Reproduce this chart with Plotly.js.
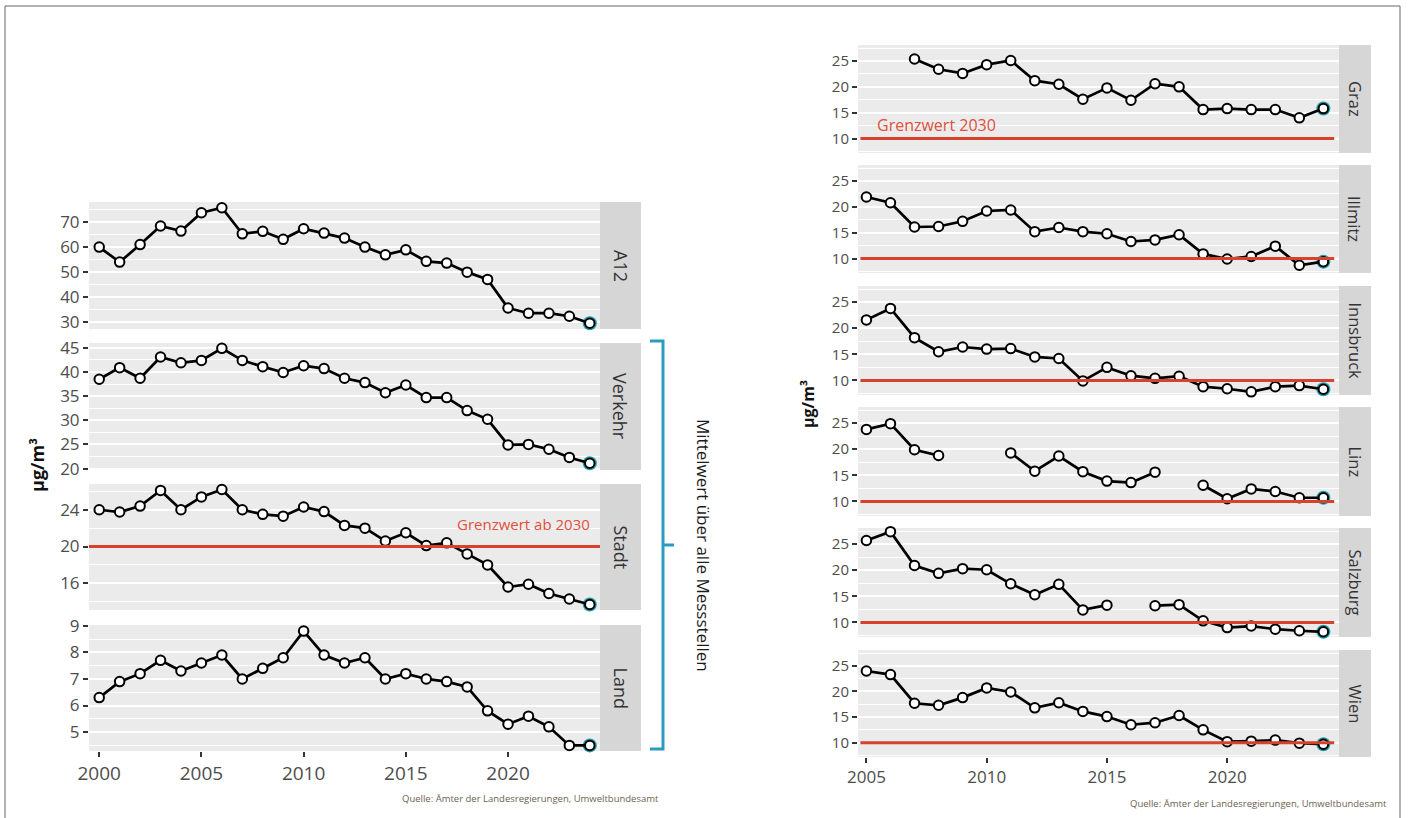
<!DOCTYPE html>
<html>
<head>
<meta charset="utf-8">
<script src="https://cdn.plot.ly/plotly-3.0.1.min.js"></script>
<style>html,body{margin:0;padding:0;background:#fff;}#chart{width:1408px;height:818px;}</style>
</head>
<body>
<div id="chart"></div>
<script>
// ---------- DATA ----------
const yearsLeft = [2000,2001,2002,2003,2004,2005,2006,2007,2008,2009,2010,2011,2012,2013,2014,2015,2016,2017,2018,2019,2020,2021,2022,2023,2024];
const a12     = [60,54,61,68.4,66.4,73.7,75.7,65.3,66.3,63.1,67.3,65.6,63.6,60,56.9,58.9,54.3,53.6,50,47.1,35.7,33.6,33.6,32.4,29.6];
const verkehr = [38.5,40.9,38.7,43.1,41.9,42.4,44.9,42.4,41.1,39.9,41.3,40.7,38.7,37.8,35.7,37.3,34.7,34.7,32.0,30.2,24.9,25.0,24.0,22.3,21.1];
const stadt   = [24.0,23.75,24.4,26.1,24.0,25.4,26.2,24.0,23.5,23.3,24.3,23.8,22.3,22.0,20.6,21.5,20.1,20.4,19.2,18.0,15.6,15.9,14.9,14.3,13.7];
const land    = [6.3,6.9,7.2,7.7,7.3,7.6,7.9,7.0,7.4,7.8,8.8,7.9,7.6,7.8,7.0,7.2,7.0,6.9,6.7,5.8,5.3,5.6,5.2,4.5,4.5];
const leftNames = ["A12","Verkehr","Stadt","Land"];

const yearsRight = [2005,2006,2007,2008,2009,2010,2011,2012,2013,2014,2015,2016,2017,2018,2019,2020,2021,2022,2023,2024];
const graz      = [null,null,25.4,23.4,22.6,24.3,25.1,21.2,20.5,17.6,19.8,17.4,20.6,20.0,15.6,15.8,15.6,15.6,14.0,15.8];
const illmitz   = [21.9,20.8,16.1,16.2,17.2,19.2,19.4,15.2,16.0,15.2,14.8,13.3,13.6,14.6,10.9,9.9,10.4,12.4,8.7,9.4];
const innsbruck = [21.6,23.8,18.2,15.5,16.4,16.0,16.1,14.5,14.2,9.9,12.5,10.9,10.4,10.8,8.8,8.4,7.8,8.8,9.0,8.3];
const linz      = [23.8,24.9,19.9,18.8,null,null,19.3,15.8,18.7,15.7,13.9,13.6,15.6,null,13.1,10.5,12.4,11.9,10.7,10.7];
const salzburg  = [25.7,27.4,20.9,19.4,20.3,20.1,17.4,15.3,17.3,12.4,13.3,null,13.2,13.4,10.3,9.0,9.3,8.7,8.4,8.2];
const wien      = [24.0,23.3,17.7,17.3,18.8,20.7,19.9,16.8,17.8,16.1,15.1,13.5,13.9,15.3,12.5,10.2,10.3,10.5,9.9,9.7];
const rightNames = ["Graz","Illmitz","Innsbruck","Linz","Salzburg","Wien"];

const limitStadt = 20;
const limitRight = 10;
const xTicksLeft  = [2000,2005,2010,2015,2020];
const xTicksRight = [2005,2010,2015,2020];

// ---------- LAYOUT HELPERS ----------
const W = 1408, H = 818;
const px = x => x / W;
const py = y => 1 - y / H;

const leftSeries  = [a12, verkehr, stadt, land];
const leftPanels  = [[202,329],[343,470],[484,610],[625,751]];
const leftRanges  = [[27.3,78.0],[19.7,46.0],[13.1,26.8],[4.29,9.03]];
const leftDtick   = [[10,5],[5,2.5],[4,2],[1,0.5]];
const leftX = [89, 600], leftStrip = [600, 641];

const rightSeries = [graz, illmitz, innsbruck, linz, salzburg, wien];
const rightPanels = [[45,153],[165,273],[286,395],[407,516],[528,637],[650,757]];
const rightRange  = [7.2, 28.1];
const rightX = [858, 1339], rightStrip = [1339, 1371];

const tickFontL = {family: "Open Sans", size: 17, color: "#4d4d4d"};
const tickFontR = {family: "Open Sans", size: 15, color: "#4d4d4d"};
const teal = "#1f9eab";

const data = [];
const layout = {
  width: W, height: H,
  margin: {l:0, r:0, t:0, b:0},
  paper_bgcolor: "white",
  plot_bgcolor: "#ebebeb",
  showlegend: false,
  font: {family: "Open Sans"},
  shapes: [], annotations: []
};

function addPanel(idx, xs, ys, xdom, ydom, xrange, yrange, dtick, minorDtick, showX, xticks, tickFont, stripFont, stripX, name) {
  const sfx = idx === 1 ? "" : String(idx);
  const xa = "x" + sfx, ya = "y" + sfx;
  layout["xaxis" + sfx] = {
    domain: [px(xdom[0]), px(xdom[1])], anchor: ya, range: xrange,
    showgrid: false, zeroline: false, showline: false,
    tickvals: xticks, ticktext: xticks.map(String),
    showticklabels: showX, ticks: showX ? "outside" : "", ticklen: 5, tickwidth: 2, tickcolor: "#333",
    tickfont: {family: "Open Sans", size: tickFont.size + 2, color: "#4d4d4d"}
  };
  layout["yaxis" + sfx] = {
    domain: [py(ydom[1]), py(ydom[0])], anchor: xa, range: yrange,
    dtick: dtick, tick0: 0, zeroline: false, showline: false,
    showgrid: true, gridcolor: "white", gridwidth: 2,
    ticks: "outside", ticklen: 5, tickwidth: 2, tickcolor: "#333",
    tickfont: tickFont,
    minor: {dtick: minorDtick, tick0: 0, showgrid: true, gridcolor: "white", gridwidth: 1, ticks: ""}
  };
  // last point halo
  let li = ys.length - 1;
  while (li >= 0 && ys[li] === null) li--;
  data.push({x: [xs[li]], y: [ys[li]], xaxis: xa, yaxis: ya, type: "scatter", mode: "markers",
    marker: {size: 14, color: teal}, cliponaxis: false, hoverinfo: "skip"});
  data.push({x: xs, y: ys, xaxis: xa, yaxis: ya, type: "scatter", mode: "lines+markers",
    connectgaps: false, cliponaxis: false,
    line: {color: "black", width: 2.7},
    marker: {symbol: "circle", size: 9.5, color: "white", line: {color: "black", width: 2}}});
  // strip
  layout.shapes.push({type: "rect", xref: "paper", yref: "paper", layer: "below",
    x0: px(stripX[0]), x1: px(stripX[1]), y0: py(ydom[1]), y1: py(ydom[0]),
    fillcolor: "#d6d6d6", line: {width: 0}});
  layout.annotations.push({xref: "paper", yref: "paper", x: px((stripX[0] + stripX[1]) / 2), y: py((ydom[0] + ydom[1]) / 2),
    text: name, textangle: 90, showarrow: false, xanchor: "center", yanchor: "middle",
    font: {family: "Open Sans", size: stripFont, color: "#333"}});
  return {xa, ya};
}

// left panels
let axesLeft = [];
for (let i = 0; i < 4; i++) {
  axesLeft.push(addPanel(i + 1, yearsLeft, leftSeries[i], leftX, leftPanels[i], [1999.5, 2024.5], leftRanges[i],
    leftDtick[i][0], leftDtick[i][1], i === 3, xTicksLeft, tickFontL, 18, leftStrip, leftNames[i]));
}
// right panels
let axesRight = [];
for (let i = 0; i < 6; i++) {
  axesRight.push(addPanel(i + 5, yearsRight, rightSeries[i], rightX, rightPanels[i], [2004.65, 2024.65], rightRange,
    5, 2.5, i === 5, xTicksRight, tickFontR, 16.5, rightStrip, rightNames[i]));
}

// limit lines
const red = "#d9412f";
layout.shapes.push({type: "line", xref: axesLeft[2].xa + " domain", yref: axesLeft[2].ya,
  x0: 0, x1: 1, y0: limitStadt, y1: limitStadt, line: {color: red, width: 3}});
layout.annotations.push({xref: axesLeft[2].xa + " domain", yref: axesLeft[2].ya, x: 0.985, y: limitStadt,
  yshift: 23, text: "Grenzwert ab 2030", showarrow: false, xanchor: "right", yanchor: "middle",
  font: {family: "Open Sans", size: 15, color: "#e0503c"}});
for (let i = 0; i < 6; i++) {
  layout.shapes.push({type: "line", xref: axesRight[i].xa + " domain", yref: axesRight[i].ya,
    x0: 0.005, x1: 0.99, y0: limitRight, y1: limitRight, line: {color: red, width: 3}});
}
layout.annotations.push({xref: axesRight[0].xa + " domain", yref: axesRight[0].ya, x: 0.035, y: limitRight,
  yshift: 14, text: "Grenzwert 2030", showarrow: false, xanchor: "left", yanchor: "middle",
  font: {family: "Open Sans", size: 16, color: "#e0503c"}});

// axis titles
layout.annotations.push({xref: "paper", yref: "paper", x: px(37), y: py(465), text: "<b>µg/m³</b>", textangle: -90,
  showarrow: false, xanchor: "center", yanchor: "middle", font: {family: "Open Sans", size: 18, color: "#111"}});
layout.annotations.push({xref: "paper", yref: "paper", x: px(808), y: py(404), text: "<b>µg/m³</b>", textangle: -90,
  showarrow: false, xanchor: "center", yanchor: "middle", font: {family: "Open Sans", size: 16, color: "#111"}});

// bracket
const bc = "#2a9cc2";
layout.shapes.push({type: "path", xref: "paper", yref: "paper",
  path: `M ${px(650)} ${py(341)} L ${px(663)} ${py(341)} L ${px(663)} ${py(749)} L ${px(650)} ${py(749)} M ${px(663)} ${py(545)} L ${px(674)} ${py(545)}`,
  line: {color: bc, width: 3}});
layout.annotations.push({xref: "paper", yref: "paper", x: px(704), y: py(545), text: "Mittelwert über alle Messstellen",
  textangle: 90, showarrow: false, xanchor: "center", yanchor: "middle", font: {family: "Open Sans", size: 17, color: "#1a1a1a"}});

// sources
layout.annotations.push({xref: "paper", yref: "paper", x: px(661), y: py(798), text: "Quelle: Ämter der Landesregierungen, Umweltbundesamt",
  showarrow: false, xanchor: "right", yanchor: "middle", font: {family: "Open Sans", size: 9.5, color: "#6e5f50"}});
layout.annotations.push({xref: "paper", yref: "paper", x: px(1389), y: py(803), text: "Quelle: Ämter der Landesregierungen, Umweltbundesamt",
  showarrow: false, xanchor: "right", yanchor: "middle", font: {family: "Open Sans", size: 9.5, color: "#6e5f50"}});

// frame
layout.shapes.push({type: "rect", xref: "paper", yref: "paper", x0: px(5), x1: px(1400), y0: py(830), y1: py(6),
  line: {color: "#666", width: 1}, fillcolor: "rgba(0,0,0,0)"});

Plotly.newPlot("chart", data, layout, {displayModeBar: false, staticPlot: true});
</script>
</body>
</html>
